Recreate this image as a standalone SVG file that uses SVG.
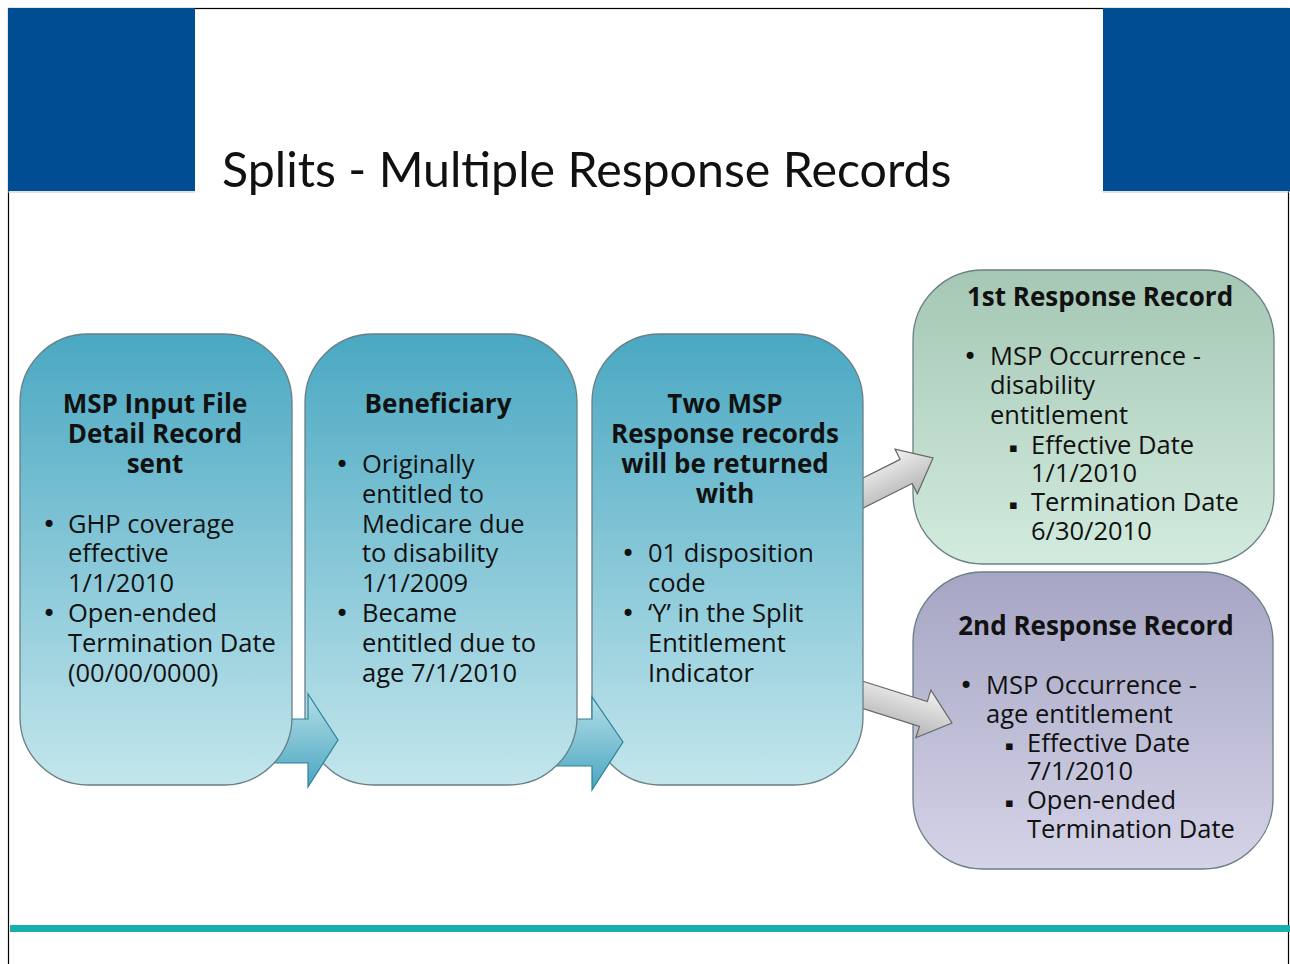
<svg xmlns="http://www.w3.org/2000/svg" width="1290" height="964" viewBox="0 0 1290 964">
<defs>
<linearGradient id="gTeal" x1="0" y1="0" x2="0" y2="1">
<stop offset="0" stop-color="#4AA8C2"/><stop offset="1" stop-color="#C3E6EC"/>
</linearGradient>
<linearGradient id="gGreen" x1="0" y1="0" x2="0" y2="1">
<stop offset="0" stop-color="#A5C7B4"/><stop offset="1" stop-color="#D2EBDE"/>
</linearGradient>
<linearGradient id="gPurple" x1="0" y1="0" x2="0" y2="1">
<stop offset="0" stop-color="#A6A5C4"/><stop offset="1" stop-color="#D4D3E7"/>
</linearGradient>
<linearGradient id="gBlueArrow" x1="0" y1="0" x2="0" y2="1">
<stop offset="0" stop-color="#B4DEE8"/><stop offset="1" stop-color="#4AA6C0"/>
</linearGradient>
<linearGradient id="gGray" x1="0" y1="0" x2="0" y2="1">
<stop offset="0" stop-color="#F2F2F2"/><stop offset="1" stop-color="#B4B4B4"/>
</linearGradient>
<style>
.box{stroke:#6A7F85;stroke-width:1.3}
.h{font-family:"Open Sans",Lato,sans-serif;font-weight:700;font-size:26px;fill:#111;text-anchor:middle}
.t{font-family:"Open Sans",Lato,sans-serif;font-size:25.5px;fill:#111}
.b{font-family:"DejaVu Sans",sans-serif;font-size:24px;fill:#111}
.s{font-family:"DejaVu Sans",sans-serif;font-size:13px;fill:#111}
.barrow{fill:url(#gBlueArrow);stroke:#2E8298;stroke-width:1.2}
.garrow{fill:url(#gGray);stroke:#666;stroke-width:1.2}
</style>
</defs>
<rect x="0" y="0" width="1290" height="964" fill="#FFFFFF"/>
<rect x="8.5" y="8.5" width="1280" height="1000" fill="none" stroke="#000" stroke-width="1.2"/>
<rect x="8" y="8" width="187" height="183" fill="#004D93"/>
<rect x="1103" y="8" width="187" height="183" fill="#004D93"/>
<line x1="8" y1="192" x2="195" y2="192" stroke="#C8C8C8" stroke-width="1"/>
<line x1="1103" y1="192" x2="1290" y2="192" stroke="#C8C8C8" stroke-width="1"/>
<text x="222" y="187" font-family="Lato,'Open Sans',sans-serif" font-size="48.3" fill="#111">Splits - Multiple Response Records</text>
<rect x="10" y="925" width="1280" height="7" fill="#17B0AD"/>

<g id="node-1st-response">
<rect class="box" x="913" y="270" width="361" height="294" rx="70" ry="70" fill="url(#gGreen)"/>
<text class="h" x="1100" y="306">1st Response Record</text>
<text class="b" x="963" y="365">•</text>
<text class="t" x="990" y="365">MSP Occurrence -</text>
<text class="t" x="990" y="394">disability</text>
<text class="t" x="990" y="424">entitlement</text>
<text class="s" x="1009" y="452">▪</text>
<text class="t" x="1031" y="454">Effective Date</text>
<text class="t" x="1031" y="482">1/1/2010</text>
<text class="s" x="1009" y="509">▪</text>
<text class="t" x="1031" y="511">Termination Date</text>
<text class="t" x="1031" y="540">6/30/2010</text>
</g>

<g id="node-2nd-response">
<rect class="box" x="913" y="572" width="360" height="297" rx="70" ry="70" fill="url(#gPurple)"/>
<text class="h" x="1096" y="635">2nd Response Record</text>
<text class="b" x="959" y="694">•</text>
<text class="t" x="986" y="694">MSP Occurrence -</text>
<text class="t" x="986" y="723">age entitlement</text>
<text class="s" x="1005" y="750">▪</text>
<text class="t" x="1027" y="752">Effective Date</text>
<text class="t" x="1027" y="780">7/1/2010</text>
<text class="s" x="1005" y="807">▪</text>
<text class="t" x="1027" y="809">Open-ended</text>
<text class="t" x="1027" y="838">Termination Date</text>
</g>

<g id="connectors-gray">
<polygon class="garrow" transform="translate(933,458) rotate(-26.6)" points="-100,-13.5 -30,-13.5 -30,-25 0,0 -30,25 -30,13.5 -100,13.5"/>
<polygon class="garrow" transform="translate(952,723) rotate(17.5)" points="-110,-13 -30,-13 -30,-25 0,0 -30,25 -30,13 -110,13"/>
</g>

<g id="node-two-msp">
<rect class="box" x="592" y="334" width="271" height="451" rx="68" ry="68" fill="url(#gTeal)"/>
<text class="h" x="725" y="413">Two MSP</text>
<text class="h" x="725" y="443">Response records</text>
<text class="h" x="725" y="473">will be returned</text>
<text class="h" x="725" y="503">with</text>
<text class="b" x="621" y="562">•</text>
<text class="t" x="648" y="562">01 disposition</text>
<text class="t" x="648" y="592">code</text>
<text class="b" x="621" y="622">•</text>
<text class="t" x="648" y="622">‘Y’ in the Split</text>
<text class="t" x="648" y="652">Entitlement</text>
<text class="t" x="648" y="682">Indicator</text>
</g>

<g id="connector-2">
<polygon class="barrow" points="555,719 592,719 592,697 623,742 592,790 592,766 555,766"/>
</g>

<g id="node-beneficiary">
<rect class="box" x="305" y="334" width="272" height="451" rx="68" ry="68" fill="url(#gTeal)"/>
<text class="h" x="438" y="413">Beneficiary</text>
<text class="b" x="335" y="473">•</text>
<text class="t" x="362" y="473">Originally</text>
<text class="t" x="362" y="503">entitled to</text>
<text class="t" x="362" y="533">Medicare due</text>
<text class="t" x="362" y="562">to disability</text>
<text class="t" x="362" y="592">1/1/2009</text>
<text class="b" x="335" y="622">•</text>
<text class="t" x="362" y="622">Became</text>
<text class="t" x="362" y="652">entitled due to</text>
<text class="t" x="362" y="682">age 7/1/2010</text>
</g>

<g id="connector-1">
<polygon class="barrow" points="265,719 308,719 308,694 338,740 308,787 308,763 265,763"/>
</g>

<g id="node-msp-input">
<rect class="box" x="20" y="334" width="272" height="451" rx="68" ry="68" fill="url(#gTeal)"/>
<text class="h" x="155" y="413">MSP Input File</text>
<text class="h" x="155" y="443">Detail Record</text>
<text class="h" x="155" y="473">sent</text>
<text class="b" x="42" y="533">•</text>
<text class="t" x="68" y="533">GHP coverage</text>
<text class="t" x="68" y="562">effective</text>
<text class="t" x="68" y="592">1/1/2010</text>
<text class="b" x="42" y="622">•</text>
<text class="t" x="68" y="622">Open-ended</text>
<text class="t" x="68" y="652">Termination Date</text>
<text class="t" x="68" y="682">(00/00/0000)</text>
</g>
</svg>
